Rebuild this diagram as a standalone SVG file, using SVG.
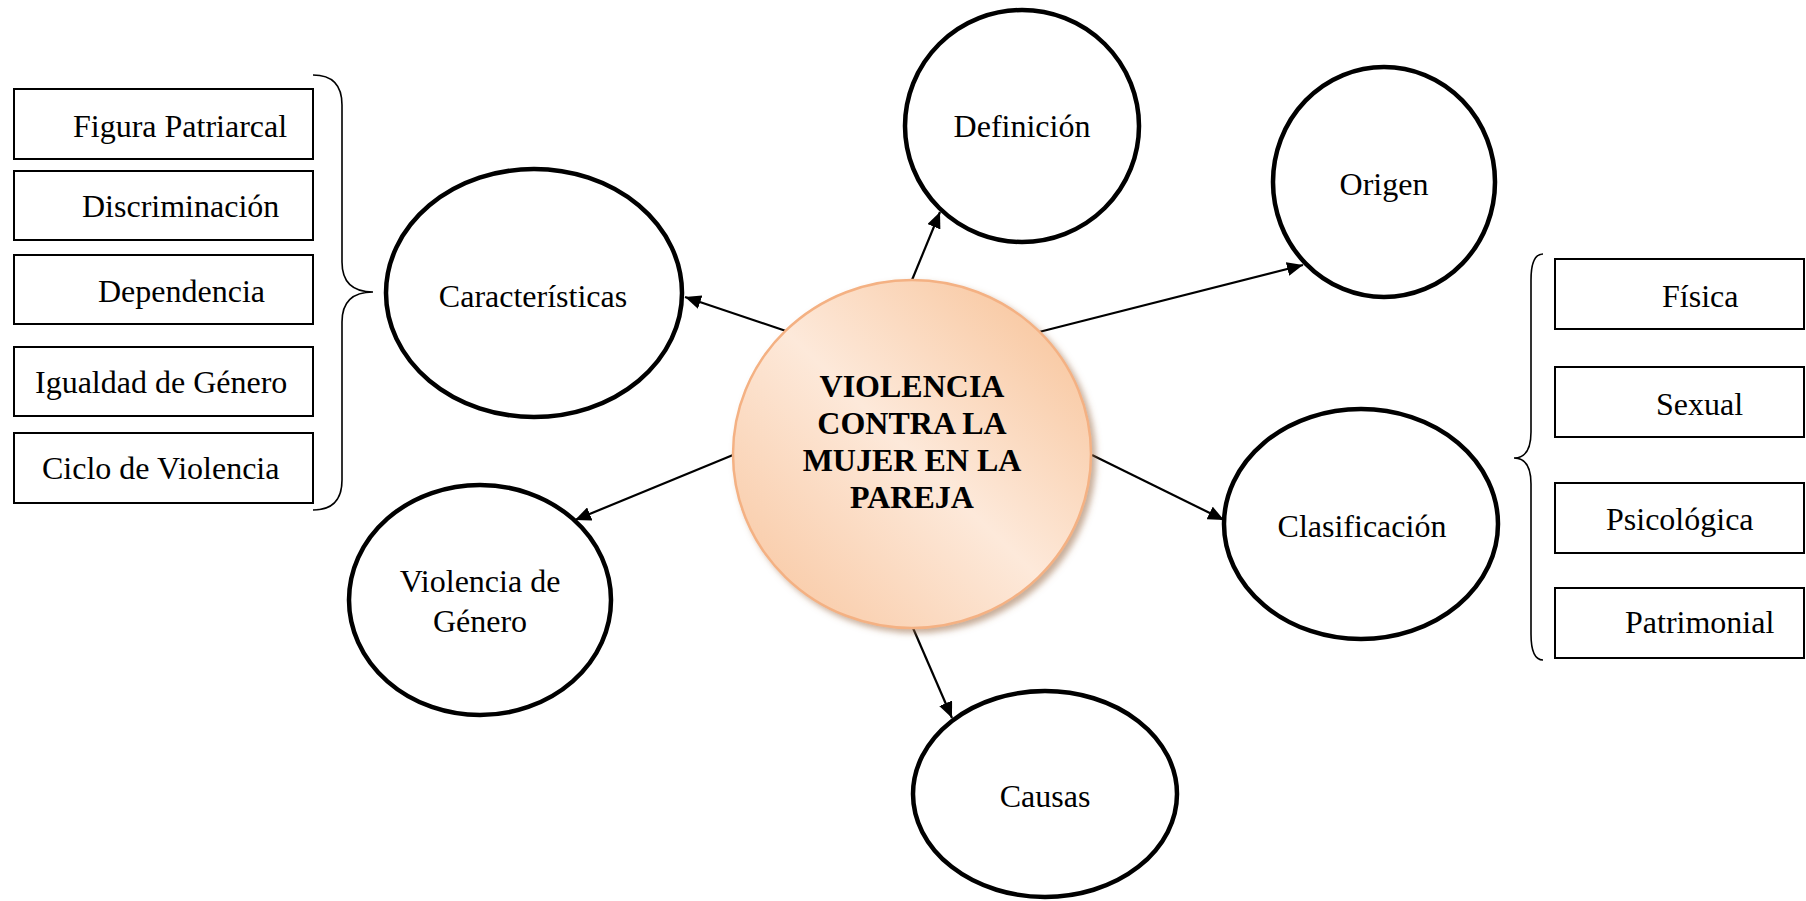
<svg xmlns="http://www.w3.org/2000/svg" width="1806" height="901" viewBox="0 0 1806 901">
<style>
  .t{font-family:"Liberation Serif","Times New Roman",serif;font-size:32px;fill:#000}
  .tb{font-family:"Liberation Serif","Times New Roman",serif;font-size:32px;font-weight:bold;fill:#000}
  .box{fill:#fff;stroke:#000;stroke-width:2}
  .node{fill:#fff;stroke:#000;stroke-width:4.5}
  .brace{fill:none;stroke:#000;stroke-width:1.6}
  .conn{stroke:#000;stroke-width:2.2;fill:none;marker-end:url(#arr)}
</style>
<defs>
  <marker id="arr" markerUnits="userSpaceOnUse" markerWidth="16" markerHeight="14" refX="16" refY="7" orient="auto">
    <path d="M0,0 L16,7 L0,14 Z" fill="#000"/>
  </marker>
  <linearGradient id="g" x1="1" y1="0" x2="0" y2="1">
    <stop offset="0" stop-color="#f7bf92"/>
    <stop offset="0.5" stop-color="#fde9da"/>
    <stop offset="1" stop-color="#f8c49c"/>
  </linearGradient>
  <filter id="sh" x="-10%" y="-10%" width="125%" height="125%">
    <feGaussianBlur in="SourceAlpha" stdDeviation="3"/>
    <feOffset dx="4" dy="4" result="b"/>
    <feFlood flood-color="#9a6a45" flood-opacity="0.55"/>
    <feComposite in2="b" operator="in"/>
    <feMerge><feMergeNode/><feMergeNode in="SourceGraphic"/></feMerge>
  </filter>
</defs>

<g id="connectors">
  <line class="conn" x1="912" y1="280" x2="940" y2="212"/>
  <line class="conn" x1="786" y1="331" x2="685" y2="297"/>
  <line class="conn" x1="1039" y1="332" x2="1303" y2="265"/>
  <line class="conn" x1="1092" y1="455" x2="1224" y2="520"/>
  <line class="conn" x1="733" y1="455" x2="575" y2="520"/>
  <line class="conn" x1="913" y1="628" x2="952" y2="718"/>
</g>

<g id="center">
  <ellipse cx="912" cy="454" rx="179" ry="174" fill="url(#g)" stroke="#f4b183" stroke-width="2.5" filter="url(#sh)"/>
  <text class="tb" text-anchor="middle" x="912" y="397">VIOLENCIA</text>
  <text class="tb" text-anchor="middle" x="912" y="434">CONTRA LA</text>
  <text class="tb" text-anchor="middle" x="912" y="471">MUJER EN LA</text>
  <text class="tb" text-anchor="middle" x="912" y="508">PAREJA</text>
</g>

<g id="definicion">
  <ellipse class="node" cx="1022" cy="126" rx="117" ry="116"/>
  <text class="t" text-anchor="middle" x="1022" y="137">Definición</text>
</g>
<g id="origen">
  <ellipse class="node" cx="1384" cy="182" rx="111" ry="115"/>
  <text class="t" text-anchor="middle" x="1384" y="195">Origen</text>
</g>
<g id="caracteristicas">
  <ellipse class="node" cx="534" cy="293" rx="148" ry="124"/>
  <text class="t" text-anchor="middle" x="533" y="307">Características</text>
</g>
<g id="clasificacion">
  <ellipse class="node" cx="1361" cy="524" rx="137" ry="115"/>
  <text class="t" text-anchor="middle" x="1362" y="537">Clasificación</text>
</g>
<g id="violencia-genero">
  <ellipse class="node" cx="480" cy="600" rx="131" ry="115"/>
  <text class="t" text-anchor="middle" x="480" y="592">Violencia de</text>
  <text class="t" text-anchor="middle" x="480" y="632">Género</text>
</g>
<g id="causas">
  <ellipse class="node" cx="1045" cy="794" rx="132" ry="103"/>
  <text class="t" text-anchor="middle" x="1045" y="807">Causas</text>
</g>

<g id="caracteristicas-list">
  <path class="brace" d="M313,75 Q342,75 342,105 L342,262 Q342,292 373,292 Q342,292 342,322 L342,480 Q342,510 313,510"/>
  <g id="figura-patriarcal"><rect class="box" x="14" y="89" width="299" height="70"/><text class="t" x="73" y="137">Figura Patriarcal</text></g>
  <g id="discriminacion"><rect class="box" x="14" y="171" width="299" height="69"/><text class="t" x="82" y="217">Discriminación</text></g>
  <g id="dependencia"><rect class="box" x="14" y="255" width="299" height="69"/><text class="t" x="98" y="302">Dependencia</text></g>
  <g id="igualdad"><rect class="box" x="14" y="347" width="299" height="69"/><text class="t" x="35" y="393">Igualdad de Género</text></g>
  <g id="ciclo"><rect class="box" x="14" y="433" width="299" height="70"/><text class="t" x="42" y="479">Ciclo de Violencia</text></g>
</g>

<g id="clasificacion-list">
  <path class="brace" d="M1543,254 Q1531,254 1531,280 L1531,432 Q1531,458 1514,458 Q1531,458 1531,484 L1531,634 Q1531,660 1543,660"/>
  <g id="fisica"><rect class="box" x="1555" y="259" width="249" height="70"/><text class="t" x="1662" y="307">Física</text></g>
  <g id="sexual"><rect class="box" x="1555" y="367" width="249" height="70"/><text class="t" x="1656" y="415">Sexual</text></g>
  <g id="psicologica"><rect class="box" x="1555" y="483" width="249" height="70"/><text class="t" x="1606" y="530">Psicológica</text></g>
  <g id="patrimonial"><rect class="box" x="1555" y="588" width="249" height="70"/><text class="t" x="1625" y="633">Patrimonial</text></g>
</g>
</svg>
